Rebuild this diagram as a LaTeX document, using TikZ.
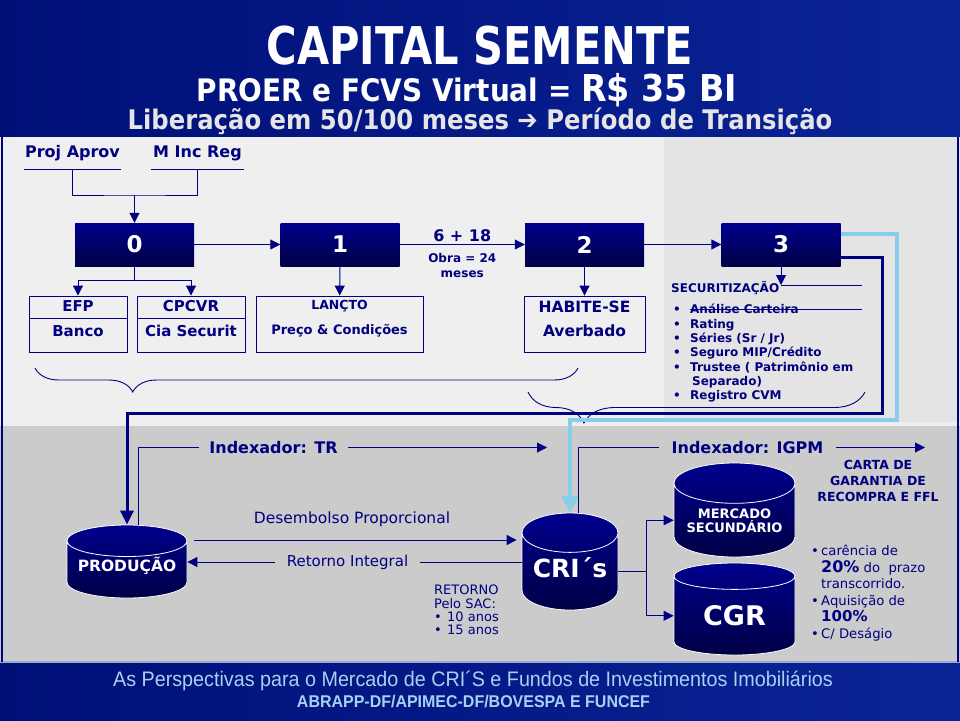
\documentclass[tikz,border=0pt]{standalone}
\usepackage{fontspec}
\setmainfont{DejaVu Sans}
\newfontfamily\headfont[FakeStretch=0.8]{DejaVu Sans}
\newfontfamily\subheadfont[FakeStretch=0.9]{DejaVu Sans}
\newfontfamily\footfont[FakeStretch=0.94]{Liberation Sans}
\usetikzlibrary{
  shapes.geometric,
  positioning,
  arrows.meta,
  calc,
  decorations.pathreplacing,
  backgrounds
}
\usepackage{xcolor}
\definecolor{inkblue}{HTML}{000080}
\definecolor{boxtop}{HTML}{00008E}
\definecolor{boxbot}{HTML}{000046}
\definecolor{skyline}{HTML}{87CEEB}
\definecolor{lightbg}{HTML}{EFEFEF}
\definecolor{rightbg}{HTML}{E4E4E4}
\definecolor{lowbg}{HTML}{CBCBCB}
\definecolor{bandleft}{HTML}{000F78}
\definecolor{bandright}{HTML}{0A2496}
\definecolor{foottext}{HTML}{A6D2F2}
\newcommand{\pxfont}[2]{\fontsize{#1}{#2}\selectfont}
\newcommand{\itembullet}[1]{\makebox[#1][l]{\textbullet}}

\begin{document}
\begin{tikzpicture}[
  x=1pt, y=-1pt,
  num_box/.style={
    rectangle,
    top color=boxtop,
    bottom color=boxbot,
    minimum width=119,
    minimum height=43,
    inner sep=0pt,
    text=white,
    font=\bfseries\pxfont{23}{23}
  },
  info_box/.style={
    draw=inkblue,
    line width=0.9pt,
    rectangle,
    inner sep=0pt,
    minimum height=56,
    align=center,
    text=inkblue
  },
  split_box/.style={
    info_box,
    path picture={
      \draw[inkblue, line width=0.9pt]
        ([yshift=-22pt]path picture bounding box.north west) --
        ([yshift=-22pt]path picture bounding box.north east);
    }
  },
  cyl_node/.style={
    cylinder,
    shape border rotate=90,
    anchor=shape center,
    draw=white,
    line width=0.8pt,
    top color=boxtop,
    bottom color=boxbot,
    inner sep=0pt,
    align=center,
    text=white,
    font=\bfseries
  },
  top_label/.style={
    text=inkblue,
    font=\bfseries\pxfont{16}{16},
    minimum width=96,
    minimum height=32,
    inner sep=0pt
  },
  index_label/.style={
    text=inkblue,
    font=\bfseries\pxfont{16}{16},
    inner xsep=10pt,
    inner ysep=0pt
  },
  plain_text/.style={
    text=inkblue,
    inner sep=0pt
  },
  head_text/.style={
    text=white,
    inner sep=0pt
  },
  foot_text/.style={
    text=foottext,
    inner sep=0pt
  },
  link_line/.style={
    draw=inkblue,
    line width=1pt
  },
  arrow_line/.style={
    link_line,
    -{Triangle[length=10pt,width=10pt]}
  },
  navy_route/.style={
    draw=inkblue,
    line width=3pt,
    -{Triangle[length=14pt,width=13pt]}
  },
  sky_route/.style={
    draw=skyline,
    line width=4pt,
    -{Triangle[length=17pt,width=17pt]}
  },
  brace_line/.style={
    decorate,
    decoration={brace, amplitude=#1},
    draw=inkblue,
    line width=0.9pt
  }
  ]

  \path[use as bounding box] (0,0) rectangle (960,720);

  \begin{scope}[on background layer]
    \shade[left color=bandleft, right color=bandright] (0,0) rectangle (960,137);
    \fill[lightbg] (0,137) rectangle (664,424);
    \fill[rightbg] (664,137) rectangle (960,424);
    \fill[white!70!lowbg] (0,422) rectangle (960,426);
    \fill[lowbg] (0,426) rectangle (960,662);
    \fill[white!60!bandright] (0,661) rectangle (960,663);
    \shade[left color=bandleft, right color=bandright] (0,663) rectangle (960,720);
    \draw[inkblue, line width=2.5pt] (2,137) -- (2,662) (958,137) -- (958,662);
  \end{scope}

  % title band
  \node[head_text, font=\headfont\bfseries\pxfont{52}{52}] (title) at (480,46) {CAPITAL SEMENTE};
  \node[head_text, font=\subheadfont\bfseries\pxfont{31}{31}] (subtitle) at (467,90) {PROER e FCVS Virtual = {\pxfont{37}{37}R\$ 35 BI}};
  \node[head_text, text=white!90!black, font=\subheadfont\bfseries\pxfont{27}{27}] (period) at (480,121) {Liberação em 50/100 meses ➔ Período de Transição};

  % upper flow
  \node[top_label] (projaprov) at (72.5,153) {Proj Aprov};
  \node[top_label, minimum width=93] (mincreg) at (197.5,153) {M Inc Reg};
  \draw[link_line] (projaprov.south west) -- (projaprov.south east);
  \draw[link_line] (mincreg.south west) -- (mincreg.south east);

  \node[num_box] (s0) at (134.5,244.5) {0};
  \node[num_box] (s1) at (340,244.5) {1};
  \node[num_box] (s2) at (584.5,244.5) {2};
  \node[num_box] (s3) at (781,244.5) {3};

  \coordinate (join0) at (134.5,195);
  \draw[link_line] (projaprov.south) |- (join0) -| (mincreg.south);
  \draw[arrow_line] (join0) -- (s0);

  \draw[arrow_line] (s0) -- (s1);
  \draw[arrow_line] (s1) -- node[plain_text, above=2pt, font=\bfseries\pxfont{16}{16}] (months) {6 + 18}
    node[plain_text, below=8pt, align=center, font=\bfseries\pxfont{12}{15}] (obra) {Obra = 24\\meses} (s2);
  \draw[arrow_line] (s2) -- (s3);

  \node[split_box, minimum width=98, text depth=11pt, font=\bfseries\pxfont{15}{25}] (efp) at (78,324) {EFP\\Banco};
  \node[split_box, minimum width=108, text depth=11pt, font=\bfseries\pxfont{15}{25}] (cpcvr) at (191,324) {CPCVR\\Cia Securit};
  \node[info_box, minimum width=167, text depth=14pt, font=\bfseries\pxfont{13}{25}] (lancto) at (339.5,324) {{\pxfont{12.5}{25}LANÇTO}\\Preço \& Condições};
  \node[info_box, minimum width=121, text depth=10pt, font=\bfseries\pxfont{15.5}{24}] (habite) at (584.5,324) {HABITE-SE\\Averbado};

  \draw[link_line] (s0.south) -- ++(0,14.5) coordinate (fork0);
  \draw[arrow_line] (fork0) -| (efp.north);
  \draw[arrow_line] (fork0) -| (cpcvr.north);
  \draw[arrow_line] (s1) -- (lancto);
  \draw[arrow_line] (s2) -- (habite);

  % securitization
  \node[plain_text, anchor=west, font=\bfseries\pxfont{12}{12}] (sechead) at (671,288) {SECURITIZAÇÃO};
  \node[plain_text, anchor=north west, align=left, font=\bfseries\pxfont{12}{14.3}] (seclist) at (673,304) {%
    \itembullet{17pt}Análise Carteira\\
    \itembullet{17pt}Rating\\
    \itembullet{17pt}Séries (Sr / Jr)\\
    \itembullet{17pt}Seguro MIP/Crédito\\
    \itembullet{17pt}Trustee ( Patrimônio em\\
    \hspace*{19pt}Separado)\\
    \itembullet{17pt}Registro CVM};
  \coordinate (sectip) at (781,285);
  \coordinate (rule1) at (862,285);
  \coordinate (rule2a) at (690,309.5);
  \coordinate (rule2b) at (862,309.5);
  \draw[arrow_line] (s3) -- (sectip);
  \draw[link_line] (sectip) -- (rule1);
  \draw[link_line] (rule2a) -- (rule2b);

  \draw[brace_line=24pt, decoration={aspect=0.82}] (578,368) -- (35,368);
  \draw[brace_line=31pt, decoration={aspect=0.834}] (865,392) -- (528,392);

  % lower flow
  \node[cyl_node, minimum width=120, minimum height=73, aspect=0.32, text depth=10pt, font=\bfseries\pxfont{15.5}{15.5}] (prod) at (127,561.5) {PRODUÇÃO};
  \node[cyl_node, minimum width=96, minimum height=97, aspect=0.53, text depth=8pt, font=\bfseries\pxfont{25}{25}] (cri) at (570,561.5) {CRI´s};
  \node[cyl_node, minimum width=121, minimum height=94, aspect=0.42, font=\bfseries\pxfont{13}{14}] (mercado) at (734.5,510) {MERCADO\\SECUNDÁRIO};
  \node[cyl_node, minimum width=121, minimum height=92, aspect=0.42, font=\bfseries\pxfont{27}{27}] (cgr) at (734.5,609) {CGR};

  \draw[navy_route] ($(s3.east)+(0,12.5)$) -- ++(42,0) |- (prod.north |- 0,413) -- (prod.north);
  \draw[sky_route] ($(s3.east)+(0,-11)$) -- ++(56,0) |- (cri.north |- 0,420) -- (cri.north);

  \node[index_label] (idxtr) at (273.5,447.5) {Indexador: TR};
  \coordinate (trend) at (547,447.5);
  \draw[link_line] ($(prod.north)+(11,0)$) |- (idxtr.west);
  \draw[arrow_line] (idxtr.east) -- (trend);

  \node[index_label, inner xsep=12pt] (idxigpm) at (747.5,447.5) {Indexador: IGPM};
  \coordinate (igpmend) at (925,447.5);
  \draw[link_line] ($(cri.north)+(8,0)$) |- (idxigpm.west);
  \draw[arrow_line] (idxigpm.east) -- (igpmend);

  \node[plain_text, font=\pxfont{15.5}{15.5}] (desemb) at (352,519) {Desembolso Proporcional};
  \draw[arrow_line, shorten >=5pt] ($(prod.east |- 0,540)+(7,0)$) -- (cri.west |- 0,540);

  \node[plain_text, inner xsep=12pt, font=\pxfont{15}{15}] (retint) at (347.5,562) {Retorno Integral};
  \draw[link_line] (cri.west |- retint) -- (retint.east);
  \draw[arrow_line] (retint.west) -- (prod.east |- retint);

  \node[plain_text, anchor=north west, align=left, font=\pxfont{13}{13.3}] (sac) at (434,585) {%
    RETORNO\\
    Pelo SAC:\\
    \itembullet{13pt}10 anos\\
    \itembullet{13pt}15 anos};

  \draw[link_line] (cri.east) -- ++(28,0) coordinate (fork1);
  \draw[arrow_line] (fork1) |- (mercado.west);
  \draw[arrow_line] (fork1) |- (cgr.west);

  \node[plain_text, align=center, font=\bfseries\pxfont{12.5}{16}] (carta) at (878,481) {CARTA DE\\GARANTIA DE\\RECOMPRA E FFL};

  \node[plain_text, anchor=north west, align=left, font=\pxfont{13.2}{16.5}] (terms) at (811,545) {%
    \itembullet{10pt}carência de\\
    \hspace*{10pt}{\bfseries\pxfont{16}{16.5}20\%} do\ \ prazo\\
    \hspace*{10pt}transcorrido.\\
    \itembullet{10pt}Aquisição de\\
    \hspace*{10pt}{\bfseries\pxfont{15}{16.5}100\%}\\
    \itembullet{10pt}C/ Deságio};

  % footer band
  \node[foot_text, font=\footfont\pxfont{21}{21}] (foot1) at (473,681) {As Perspectivas para o Mercado de CRI´S e Fundos de Investimentos Imobiliários};
  \node[foot_text, font=\footfont\bfseries\pxfont{17}{17}] (foot2) at (473.5,701) {ABRAPP-DF/APIMEC-DF/BOVESPA E FUNCEF};

\end{tikzpicture}
\end{document}
